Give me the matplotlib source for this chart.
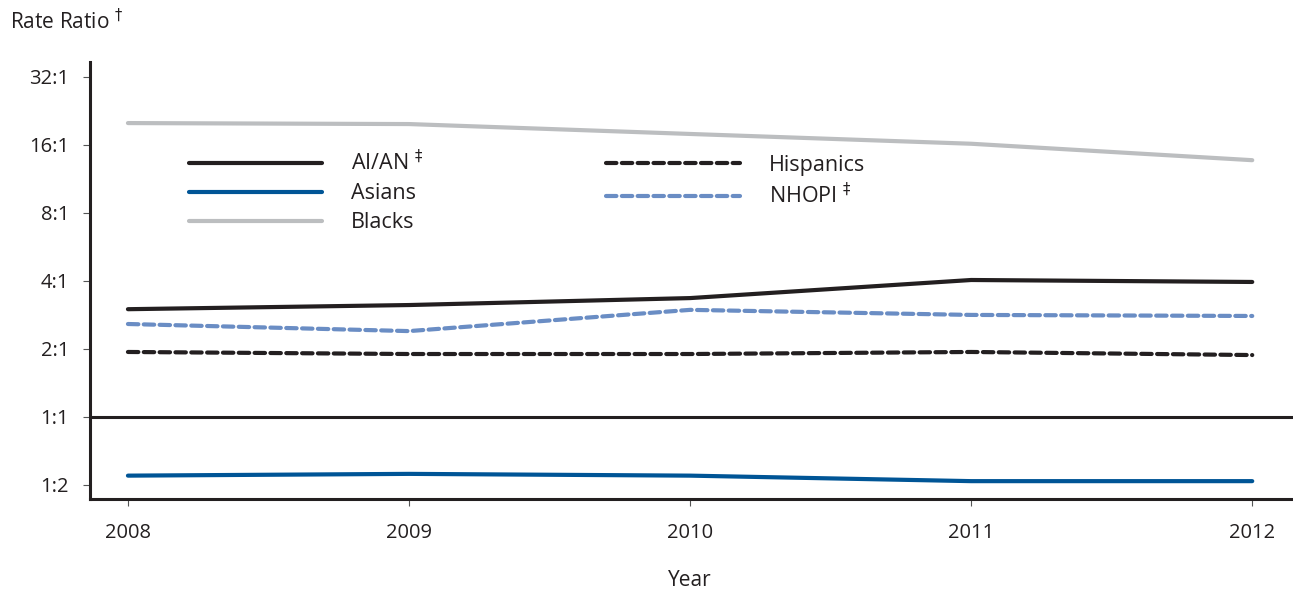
import numpy as np
import matplotlib
matplotlib.use("Agg")
import matplotlib.pyplot as plt
from matplotlib.ticker import FixedLocator, NullLocator

plt.rcParams['font.family'] = ['Open Sans', 'DejaVu Sans']
plt.rcParams['mathtext.fontset'] = 'dejavusans'

years = [2008, 2009, 2010, 2011, 2012]
aian = [3.0, 3.13, 3.36, 4.04, 3.96]
asians = [0.55, 0.56, 0.55, 0.52, 0.52]
blacks = [20.0, 19.8, 17.9, 16.2, 13.7]
hispanics = [1.94, 1.90, 1.90, 1.94, 1.88]
nhopi = [2.58, 2.40, 2.98, 2.83, 2.80]

ytick_vals = [0.5, 1, 2, 4, 8, 16, 32]
ytick_labels = ['1:2', '1:1', '2:1', '4:1', '8:1', '16:1', '32:1']

dark = '#231F20'
fig = plt.figure(figsize=(12.93, 5.94), dpi=100)
ax = fig.add_axes([90 / 1293, 1 - 499 / 594, (1293 - 90) / 1293, (499 - 62) / 594])

lw = 3.0
ax.plot(years, aian, color=dark, lw=lw, solid_capstyle='round', label='AI/AN $^{\u2021}$')
ax.plot(years, asians, color='#005596', lw=lw, solid_capstyle='round', label='Asians')
ax.plot(years, blacks, color='#BCBEC0', lw=lw, solid_capstyle='round', label='Blacks')
ax.plot(years, hispanics, color=dark, lw=lw, dashes=(2.5, 1.3), dash_capstyle='round',
        label='Hispanics')
ax.plot(years, nhopi, color='#6A8DC4', lw=lw, dashes=(2.5, 1.3), dash_capstyle='round',
        label='NHOPI $^{\u2021}$')

# reference line at 1:1
ax.axhline(1, color=dark, lw=2.2)

ax.set_yscale('log', base=2)
ax.set_ylim(2 ** -1.206, 2 ** 5.22)
ax.set_xlim(2007.865, 2012.145)
ax.yaxis.set_major_locator(FixedLocator(ytick_vals))
ax.yaxis.set_minor_locator(NullLocator())
ax.set_yticklabels(ytick_labels)
ax.set_xticks(years)
ax.set_xticklabels([str(y) for y in years])

for s in ['top', 'right']:
    ax.spines[s].set_visible(False)
for s in ['left', 'bottom']:
    ax.spines[s].set_color(dark)
    ax.spines[s].set_linewidth(2.2)
ax.tick_params(axis='both', length=5, width=0.8, color='#555555', labelcolor=dark,
               labelsize=14.5, direction='out')
ax.tick_params(axis='y', pad=10)
ax.tick_params(axis='x', pad=12)

leg = ax.legend(loc='upper left', bbox_to_anchor=(0.066, 0.842), ncol=2, frameon=False,
                fontsize=15.5, handlelength=6.2, handletextpad=1.35, columnspacing=8.5,
                labelspacing=0.36, labelcolor=dark)

fig.text(10 / 1293, 1 - 22 / 594, 'Rate Ratio $^{\u2020}$', fontsize=15, color=dark,
         va='center', ha='left')
fig.text(690 / 1293, 1 - 580 / 594, 'Year', fontsize=15, color=dark, va='center', ha='center')

fig.savefig('out.png', dpi=100)
